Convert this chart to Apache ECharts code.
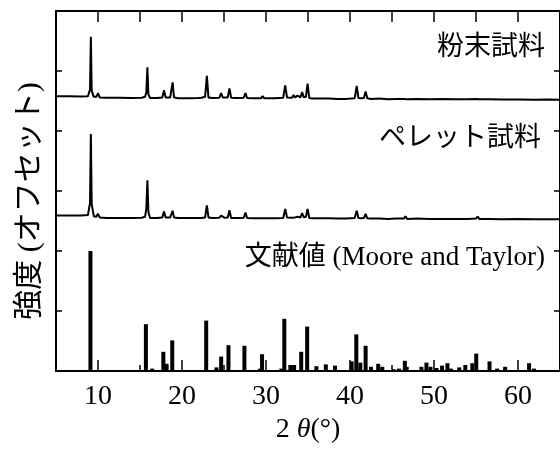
<!DOCTYPE html>
<html><head><meta charset="utf-8">
<script src="https://cdn.jsdelivr.net/npm/echarts@6/dist/echarts.min.js"></script>
<style>html,body{margin:0;padding:0;background:#fff}#c{width:560px;height:449px}</style>
</head><body><div id="c"></div>
<script>
// 2θ positions shared by the two measured traces
const traceTheta = [5, 6.5, 8, 8.8, 9.05, 9.15, 9.25, 9.5, 9.8, 10.0, 10.2, 11, 12.2, 12.4, 12.6, 14, 15.2, 15.4, 15.6, 15.75, 15.88, 16.0, 16.2, 17, 17.65, 17.86, 18.05, 18.3, 18.45, 18.6, 18.7, 18.88, 19.05, 19.5, 21.0, 21.9, 22.1, 22.3, 22.75, 22.96, 23.15, 23.6, 24.45, 24.66, 24.85, 25.05, 25.45, 25.65, 25.85, 26.5, 27.35, 27.55, 27.75, 28.5, 29.4, 29.6, 29.8, 31, 32.05, 32.29, 32.5, 32.7, 33.1, 33.28, 33.45, 33.6, 33.76, 33.9, 34.1, 34.3, 34.5, 34.75, 34.95, 35.15, 35.5, 36.5, 37.1, 37.3, 37.5, 38.5, 39.5, 40.55, 40.8, 41.0, 41.3, 41.65, 41.86, 42.05, 42.5, 43.5, 44.5, 45.5, 46.4, 46.6, 46.8, 48, 49.5, 51, 52.5, 54, 55.0, 55.2, 55.4, 56.5, 58, 60, 62, 63.5, 65];
// 粉末試料 (offset trace)
const powderIntensity = [4.58, 4.58, 4.575, 4.58, 4.69, 5.57, 4.67, 4.57, 4.57, 4.63, 4.56, 4.555, 4.555, 4.54, 4.555, 4.55, 4.555, 4.57, 4.57, 4.64, 5.06, 4.61, 4.55, 4.55, 4.56, 4.68, 4.56, 4.56, 4.58, 4.56, 4.57, 4.81, 4.56, 4.545, 4.545, 4.55, 4.58, 4.555, 4.57, 4.92, 4.56, 4.55, 4.555, 4.63, 4.56, 4.555, 4.56, 4.71, 4.555, 4.55, 4.555, 4.63, 4.55, 4.545, 4.545, 4.58, 4.545, 4.545, 4.555, 4.76, 4.56, 4.55, 4.555, 4.60, 4.56, 4.56, 4.59, 4.56, 4.56, 4.65, 4.56, 4.57, 4.79, 4.55, 4.54, 4.54, 4.54, 4.555, 4.54, 4.535, 4.535, 4.545, 4.75, 4.55, 4.545, 4.55, 4.66, 4.545, 4.535, 4.54, 4.53, 4.535, 4.535, 4.565, 4.53, 4.535, 4.53, 4.535, 4.53, 4.53, 4.535, 4.56, 4.53, 4.53, 4.525, 4.525, 4.52, 4.525, 4.52];
// ペレット試料 (offset trace)
const pelletIntensity = [2.59, 2.59, 2.59, 2.60, 2.80, 3.95, 2.78, 2.58, 2.57, 2.62, 2.56, 2.55, 2.55, 2.545, 2.55, 2.55, 2.555, 2.565, 2.57, 2.70, 3.18, 2.65, 2.55, 2.55, 2.56, 2.66, 2.56, 2.56, 2.57, 2.56, 2.56, 2.67, 2.56, 2.55, 2.55, 2.55, 2.57, 2.55, 2.56, 2.76, 2.56, 2.55, 2.555, 2.59, 2.56, 2.555, 2.56, 2.68, 2.55, 2.55, 2.555, 2.64, 2.55, 2.545, 2.545, 2.56, 2.545, 2.545, 2.55, 2.70, 2.56, 2.55, 2.555, 2.575, 2.56, 2.56, 2.57, 2.555, 2.56, 2.63, 2.56, 2.57, 2.70, 2.55, 2.545, 2.545, 2.545, 2.57, 2.545, 2.54, 2.54, 2.55, 2.67, 2.55, 2.545, 2.55, 2.62, 2.545, 2.54, 2.54, 2.535, 2.54, 2.54, 2.58, 2.535, 2.54, 2.535, 2.535, 2.535, 2.535, 2.54, 2.575, 2.535, 2.535, 2.53, 2.535, 2.53, 2.53, 2.53];
// 文献値 (Moore and Taylor) stick pattern
const litTheta = [9.1, 15.7, 16.45, 17.78, 18.17, 18.84, 22.88, 24.1, 24.66, 25.53, 27.43, 29.3, 29.53, 31.82, 32.18, 32.9, 33.35, 34.19, 34.9, 36.0, 37.12, 38.22, 40.2, 40.75, 41.23, 41.86, 42.5, 43.36, 43.84, 45.2, 45.82, 46.53, 46.75, 48.5, 49.1, 49.58, 50.3, 50.96, 51.6, 52.0, 53.0, 53.73, 54.56, 55.03, 56.61, 57.52, 58.47, 61.32, 61.9];
const litIntensity = [2.0, 0.78, 0.04, 0.32, 0.12, 0.51, 0.84, 0.06, 0.24, 0.43, 0.42, 0.04, 0.28, 0.04, 0.87, 0.1, 0.1, 0.32, 0.74, 0.08, 0.11, 0.09, 0.16, 0.61, 0.14, 0.42, 0.07, 0.12, 0.07, 0.03, 0.04, 0.17, 0.07, 0.07, 0.14, 0.07, 0.05, 0.09, 0.13, 0.04, 0.06, 0.1, 0.13, 0.29, 0.16, 0.04, 0.07, 0.13, 0.04];
const xMajorTicks = [10, 20, 30, 40, 50, 60];
const xMinorTicks = [15, 25, 35, 45, 55];
const traceLabels = ['粉末試料', 'ペレット試料', '文献値 (Moore and Taylor)'];
const yAxisTitle = '強度 (オフセット)';

const FONT = "'Liberation Serif', 'Noto Sans CJK JP', serif";
const pair = (xs, ys) => xs.map((x, i) => [x, ys[i]]);

const chart = echarts.init(document.getElementById('c'), null, {renderer: 'canvas'});
const axLine = {show: true, onZero: false, lineStyle: {color: '#000', width: 2}};
chart.setOption({
  animation: false,
  backgroundColor: '#fff',
  grid: {left: 56, top: 11, width: 506, height: 360, containLabel: false},
  xAxis: [
    {type: 'value', position: 'bottom', min: 5, max: 65, axisLine: axLine,
     splitLine: {show: false},
     axisTick: {show: true, inside: true, length: 11, customValues: xMajorTicks, lineStyle: {color: '#000', width: 1.5}},
     axisLabel: {show: true, customValues: xMajorTicks, margin: 12, color: '#000', fontFamily: FONT, fontSize: 28},
     name: '{n|2 }{i|θ}{n|(°)}', nameLocation: 'middle', nameGap: 41,
     nameTextStyle: {color: '#000', rich: {n: {fontFamily: FONT, fontSize: 28, color: '#000'}, i: {fontFamily: FONT, fontSize: 28, fontStyle: 'italic', color: '#000'}}}},
    {type: 'value', position: 'bottom', min: 5, max: 65, axisLine: {show: false},
     splitLine: {show: false},
     axisTick: {show: true, inside: true, length: 6, customValues: xMinorTicks, lineStyle: {color: '#000', width: 1.5}},
     axisLabel: {show: false}},
    {type: 'value', position: 'top', min: 5, max: 65, interval: 5, axisLine: axLine,
     splitLine: {show: false},
     axisTick: {show: true, inside: true, length: 11, lineStyle: {color: '#000', width: 1.5}},
     axisLabel: {show: false}}
  ],
  yAxis: [
    {type: 'value', position: 'left', min: 0, max: 6, interval: 1, axisLine: axLine,
     splitLine: {show: false},
     axisTick: {show: true, inside: true, length: 6, lineStyle: {color: '#000', width: 1.5}},
     axisLabel: {show: false}},
    {type: 'value', position: 'right', min: 0, max: 6, interval: 1, axisLine: axLine,
     splitLine: {show: false},
     axisTick: {show: true, inside: true, length: 6, lineStyle: {color: '#000', width: 1.5}},
     axisLabel: {show: false}}
  ],
  series: [
    {type: 'bar', name: traceLabels[2], data: pair(litTheta, litIntensity), barWidth: 4,
     itemStyle: {color: '#000'}, xAxisIndex: 0, yAxisIndex: 0},
    {type: 'line', name: traceLabels[1], data: pair(traceTheta, pelletIntensity), showSymbol: false,
     lineStyle: {color: '#000', width: 2}, xAxisIndex: 0, yAxisIndex: 0},
    {type: 'line', name: traceLabels[0], data: pair(traceTheta, powderIntensity), showSymbol: false,
     lineStyle: {color: '#000', width: 2}, xAxisIndex: 0, yAxisIndex: 0}
  ],
  graphic: [
    {type: 'text', x: 30, y: 201, rotation: Math.PI / 2, style: {text: yAxisTitle, textAlign: 'center', textVerticalAlign: 'middle', font: "30px " + FONT, fill: '#000'}},
    {type: 'text', x: 545, y: 48, style: {text: traceLabels[0], textAlign: 'right', textVerticalAlign: 'middle', font: "27px " + FONT, fill: '#000'}},
    {type: 'text', x: 541, y: 139, style: {text: traceLabels[1], textAlign: 'right', textVerticalAlign: 'middle', font: "27px " + FONT, fill: '#000'}},
    {type: 'text', x: 545, y: 258, style: {text: traceLabels[2], textAlign: 'right', textVerticalAlign: 'middle', font: "27px " + FONT, fill: '#000'}}
  ]
});
</script></body></html>
